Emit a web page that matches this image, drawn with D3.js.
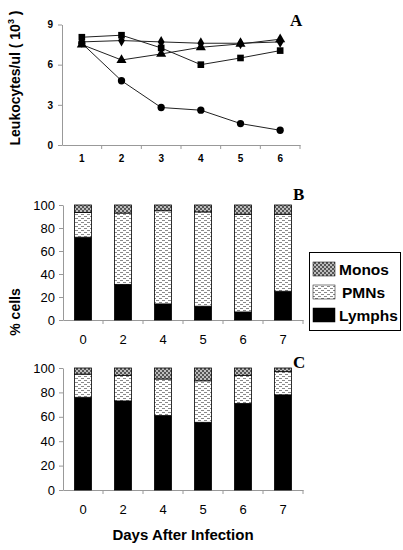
<!DOCTYPE html>
<html><head><meta charset="utf-8">
<script src="https://cdn.jsdelivr.net/npm/d3@7"></script>
<style>body{margin:0;background:#fff}svg{display:block}</style>
</head><body>
<script>
// Panel A data
const daysA = ["1","2","3","4","5","6"];
const circleVals   = [7.6, 4.8, 2.8, 2.6, 1.6, 1.1];
const squareVals   = [8.05, 8.2, 7.25, 6.0, 6.5, 7.05];
const diamondVals  = [7.7, 7.8, 7.7, 7.6, 7.6, 7.7];
const triangleVals = [7.5, 6.35, 6.8, 7.3, 7.55, 7.9];
const ticksA = [0, 3, 6, 9];

// Panels B and C data
const daysBC = ["0","2","4","5","6","7"];
const lymphsB = [72, 31, 14, 12, 7, 25];
const pmnsB   = [21.5, 62, 81, 82, 85, 67];
const monosB  = [6.5, 7, 5, 6, 8, 8];
const lymphsC = [76, 73, 61, 55.5, 71, 78];
const pmnsC   = [19, 21, 30, 34, 23, 19];
const monosC  = [5, 6, 9, 10.5, 6, 3];
const ticksBC = [0, 20, 40, 60, 80, 100];
const cellTypes = ["Monos", "PMNs", "Lymphs"];

const W = 403, H = 550;
const svg = d3.select("body").append("svg").attr("width", W).attr("height", H);
const defs = svg.append("defs");
// PMN pattern: light dashes
const pp = defs.append("pattern").attr("id","pmn").attr("patternUnits","userSpaceOnUse").attr("width",6).attr("height",4);
pp.append("rect").attr("width",6).attr("height",4).attr("fill","#fff");
pp.append("rect").attr("x",0).attr("y",0).attr("width",3).attr("height",1).attr("fill","#8a8a8a");
pp.append("rect").attr("x",3).attr("y",2).attr("width",3).attr("height",1).attr("fill","#8a8a8a");
// Monos pattern: fine checker
const mp = defs.append("pattern").attr("id","mono").attr("patternUnits","userSpaceOnUse").attr("width",4).attr("height",4);
mp.append("rect").attr("width",4).attr("height",4).attr("fill","#bdbdbd");
mp.append("rect").attr("x",0).attr("y",0).attr("width",2).attr("height",2).attr("fill","#555");
mp.append("rect").attr("x",2).attr("y",2).attr("width",2).attr("height",2).attr("fill","#555");

const fills = {Monos:"url(#mono)", PMNs:"url(#pmn)", Lymphs:"#000"};
const axisColor = "#999";
const font = "Liberation Sans, Arial, sans-serif";

function styleAxis(g){
  g.selectAll("path.domain").attr("stroke", axisColor);
  g.selectAll(".tick line").attr("stroke", axisColor);
  g.selectAll("text").attr("font-family", font).attr("fill","#000");
}

// ---------- Panel A ----------
const xA = d3.scaleBand().domain(daysA).range([62, 300]);
const yA = d3.scaleLinear().domain([0, 9]).range([145, 24.5]);

const gxA = svg.append("g").attr("transform","translate(0,145)")
  .call(d3.axisBottom(xA).tickSize(0).tickPadding(10).tickSizeOuter(0));
styleAxis(gxA);
gxA.selectAll("text").attr("font-size",10).attr("font-weight","bold");
svg.append("g").selectAll("line").data(daysA.slice(1)).join("line")
  .attr("x1", d=>xA(d)).attr("x2", d=>xA(d))
  .attr("y1",145).attr("y2",149).attr("stroke",axisColor);
svg.append("line").attr("x1",300).attr("x2",300).attr("y1",145).attr("y2",149).attr("stroke",axisColor);

const gyA = svg.append("g").attr("transform","translate(62,0)")
  .call(d3.axisLeft(yA).tickValues(ticksA).tickSize(4).tickPadding(5).tickSizeOuter(0));
styleAxis(gyA);
gyA.selectAll("text").attr("font-size",10).attr("font-weight","bold");

const cx = d => xA(d) + xA.bandwidth()/2;
const line = d3.line().x((v,i)=>cx(daysA[i])).y(v=>yA(v));
const seriesA = [
  {vals: diamondVals, sym: d3.symbolDiamond, size: 40},
  {vals: triangleVals, sym: d3.symbolTriangle, size: 44},
  {vals: squareVals, sym: d3.symbolSquare, size: 44},
  {vals: circleVals, sym: d3.symbolCircle, size: 42}
];
seriesA.forEach(s => {
  svg.append("path").attr("d", line(s.vals)).attr("fill","none").attr("stroke","#222").attr("stroke-width",1);
});
seriesA.forEach(s => {
  svg.append("g").selectAll("path").data(s.vals).join("path")
    .attr("transform",(v,i)=>`translate(${cx(daysA[i])},${yA(v)})`)
    .attr("d", d3.symbol().type(s.sym).size(s.size)).attr("fill","#000");
});

svg.append("text").attr("transform","translate(20,78) rotate(-90)").attr("text-anchor","middle")
  .attr("font-family",font).attr("font-weight","bold").attr("font-size",14)
  .html('Leukocytes/ul ( 10<tspan dy="-6" font-size="9">3</tspan><tspan dy="6"> )</tspan>');

svg.append("text").attr("x",290).attr("y",26).attr("font-family","Liberation Serif, Times New Roman, serif")
  .attr("font-weight","bold").attr("font-size",17).text("A");

// ---------- Panels B & C ----------
function stackedPanel(lymphs, pmns, monos, y0, y100, letter, letterY){
  const x = d3.scaleBand().domain(daysBC).range([63, 303]);
  const y = d3.scaleLinear().domain([0,100]).range([y0, y100]);
  const rows = daysBC.map((d,i)=>({day:d, Lymphs:lymphs[i], PMNs:pmns[i], Monos:monos[i]}));
  const stack = d3.stack().keys(["Lymphs","PMNs","Monos"])(rows);
  const bw = 17;
  const gx = svg.append("g").attr("transform",`translate(0,${y0})`)
    .call(d3.axisBottom(x).tickSize(0).tickPadding(15).tickSizeOuter(0));
  styleAxis(gx);
  gx.selectAll("text").attr("font-size",13);
  svg.append("g").selectAll("line").data(daysBC.slice(1)).join("line")
    .attr("x1",d=>x(d)).attr("x2",d=>x(d))
    .attr("y1",y0).attr("y2",y0+4).attr("stroke",axisColor);
  svg.append("line").attr("x1",303).attr("x2",303).attr("y1",y0).attr("y2",y0+4).attr("stroke",axisColor);
  const gy = svg.append("g").attr("transform","translate(63,0)")
    .call(d3.axisLeft(y).tickValues(ticksBC).tickSize(4).tickPadding(4).tickSizeOuter(0));
  styleAxis(gy);
  gy.selectAll("text").attr("font-size",13);
  stack.forEach(layer => {
    svg.append("g").selectAll("rect").data(layer).join("rect")
      .attr("x", d => Math.round(x(d.data.day) + x.bandwidth()/2 - bw/2 - 1) + 0.5)
      .attr("width", bw)
      .attr("y", d => y(d[1]))
      .attr("height", d => y(d[0]) - y(d[1]))
      .attr("fill", fills[layer.key]).attr("stroke","#000").attr("stroke-width",0.8);
  });
  svg.append("text").attr("x",293).attr("y",letterY).attr("font-family","Liberation Serif, Times New Roman, serif")
    .attr("font-weight","bold").attr("font-size",17).text(letter);
}
stackedPanel(lymphsB, pmnsB, monosB, 320, 205, "B", 200);
stackedPanel(lymphsC, pmnsC, monosC, 490, 368, "C", 368);

svg.append("text").attr("transform","translate(20,312) rotate(-90)").attr("text-anchor","middle")
  .attr("font-family",font).attr("font-weight","bold").attr("font-size",14).text("% cells");

svg.append("text").attr("x",183).attr("y",540).attr("text-anchor","middle")
  .attr("font-family",font).attr("font-weight","bold").attr("font-size",15).text("Days After Infection");

// Legend
const lg = svg.append("g");
lg.append("rect").attr("x",309.5).attr("y",252.5).attr("width",91).attr("height",78)
  .attr("fill","#fff").attr("stroke","#000").attr("stroke-width",1);
cellTypes.forEach((k,i)=>{
  const yy = 262 + i*23;
  lg.append("rect").attr("x",313).attr("y",yy).attr("width",22).attr("height",14)
    .attr("fill",fills[k]).attr("stroke","#000").attr("stroke-width",0.5);
  lg.append("text").attr("x", k==="PMNs" ? 342 : 339).attr("y",yy+13).attr("font-family",font)
    .attr("font-weight","bold").attr("font-size",15.5).text(k);
});
</script>
</body></html>
